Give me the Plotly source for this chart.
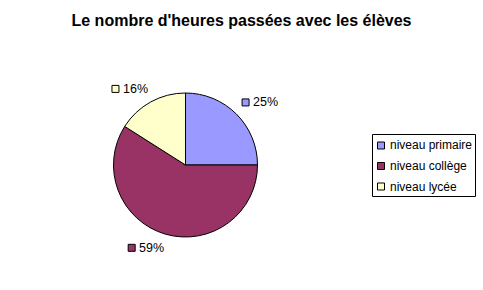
import math
import plotly.graph_objects as go

# ---- data ----
categories = ["niveau primaire", "niveau collège", "niveau lycée"]
values = [25, 59, 16]
colors = ["#9999FF", "#993366", "#FFFFCC"]
title = "Le nombre d'heures passées avec les élèves"

W, H = 483, 290
FONT = "Liberation Sans, Arial, sans-serif"

# pie geometry (pixels)
cx, cy, R = 185.5, 165.0, 72.0

def px(x):
    return x / W

def py(y):
    return 1 - y / H

fig = go.Figure()
fig.add_trace(go.Pie(
    labels=categories, values=values, sort=False, direction="clockwise",
    rotation=0, marker=dict(colors=colors, line=dict(color="black", width=1)),
    textinfo="none", hoverinfo="label+percent", showlegend=False,
    domain=dict(x=[px(cx - R), px(cx + R)], y=[py(cy + R), py(cy - R)]),
))

shapes = []
annotations = []

# outside percentage labels with colour key squares
total = sum(values)
cum = 0
SQ, GAP, TW, LH = 7, 3, 25, 12
for cat, v, col in zip(categories, values, colors):
    mid = (cum + v / 2) / total * 2 * math.pi
    cum += v
    s, c = math.sin(mid), math.cos(mid)
    rr = R + 8
    ax = cx + rr * s
    ay = cy - rr * c
    txt = f"{round(v / total * 100)}%"
    gw = SQ + GAP + TW
    left = ax if s > 0 else ax - gw
    mid_y = ay - LH / 2 if c > 0 else ay + LH / 2
    shapes.append(dict(type="rect", xref="paper", yref="paper",
                       x0=px(left), x1=px(left + SQ), y0=py(mid_y + SQ / 2), y1=py(mid_y - SQ / 2),
                       fillcolor=col, line=dict(color="black", width=1)))
    annotations.append(dict(x=px(left + SQ + GAP - 1), y=py(mid_y), xref="paper", yref="paper",
                            text=txt, showarrow=False, xanchor="left", yanchor="middle",
                            font=dict(family=FONT, size=12.5, color="black")))

# legend box
lx0, ly0, lx1, ly1 = 372.5, 134.5, 475.5, 196.5
shapes.append(dict(type="rect", xref="paper", yref="paper",
                   x0=px(lx0), x1=px(lx1), y0=py(ly1), y1=py(ly0),
                   fillcolor="white", line=dict(color="black", width=1)))
for i, (cat, col) in enumerate(zip(categories, colors)):
    yy = 145.5 + i * 20.5
    shapes.append(dict(type="rect", xref="paper", yref="paper",
                       x0=px(377.5), x1=px(384.5), y0=py(yy + 3.5), y1=py(yy - 3.5),
                       fillcolor=col, line=dict(color="black", width=1)))
    annotations.append(dict(x=px(388), y=py(yy), xref="paper", yref="paper",
                            text=cat, showarrow=False, xanchor="left", yanchor="middle",
                            font=dict(family=FONT, size=12, color="black")))

fig.update_layout(
    width=W, height=H, margin=dict(l=0, r=0, t=0, b=0),
    paper_bgcolor="white", plot_bgcolor="white",
    title=dict(text=title, x=0.5, xanchor="center", y=py(20), yanchor="middle",
               font=dict(family=FONT, size=16, color="black", weight="bold")),
    shapes=shapes, annotations=annotations, showlegend=False,
)

fig.write_html("out.html")
